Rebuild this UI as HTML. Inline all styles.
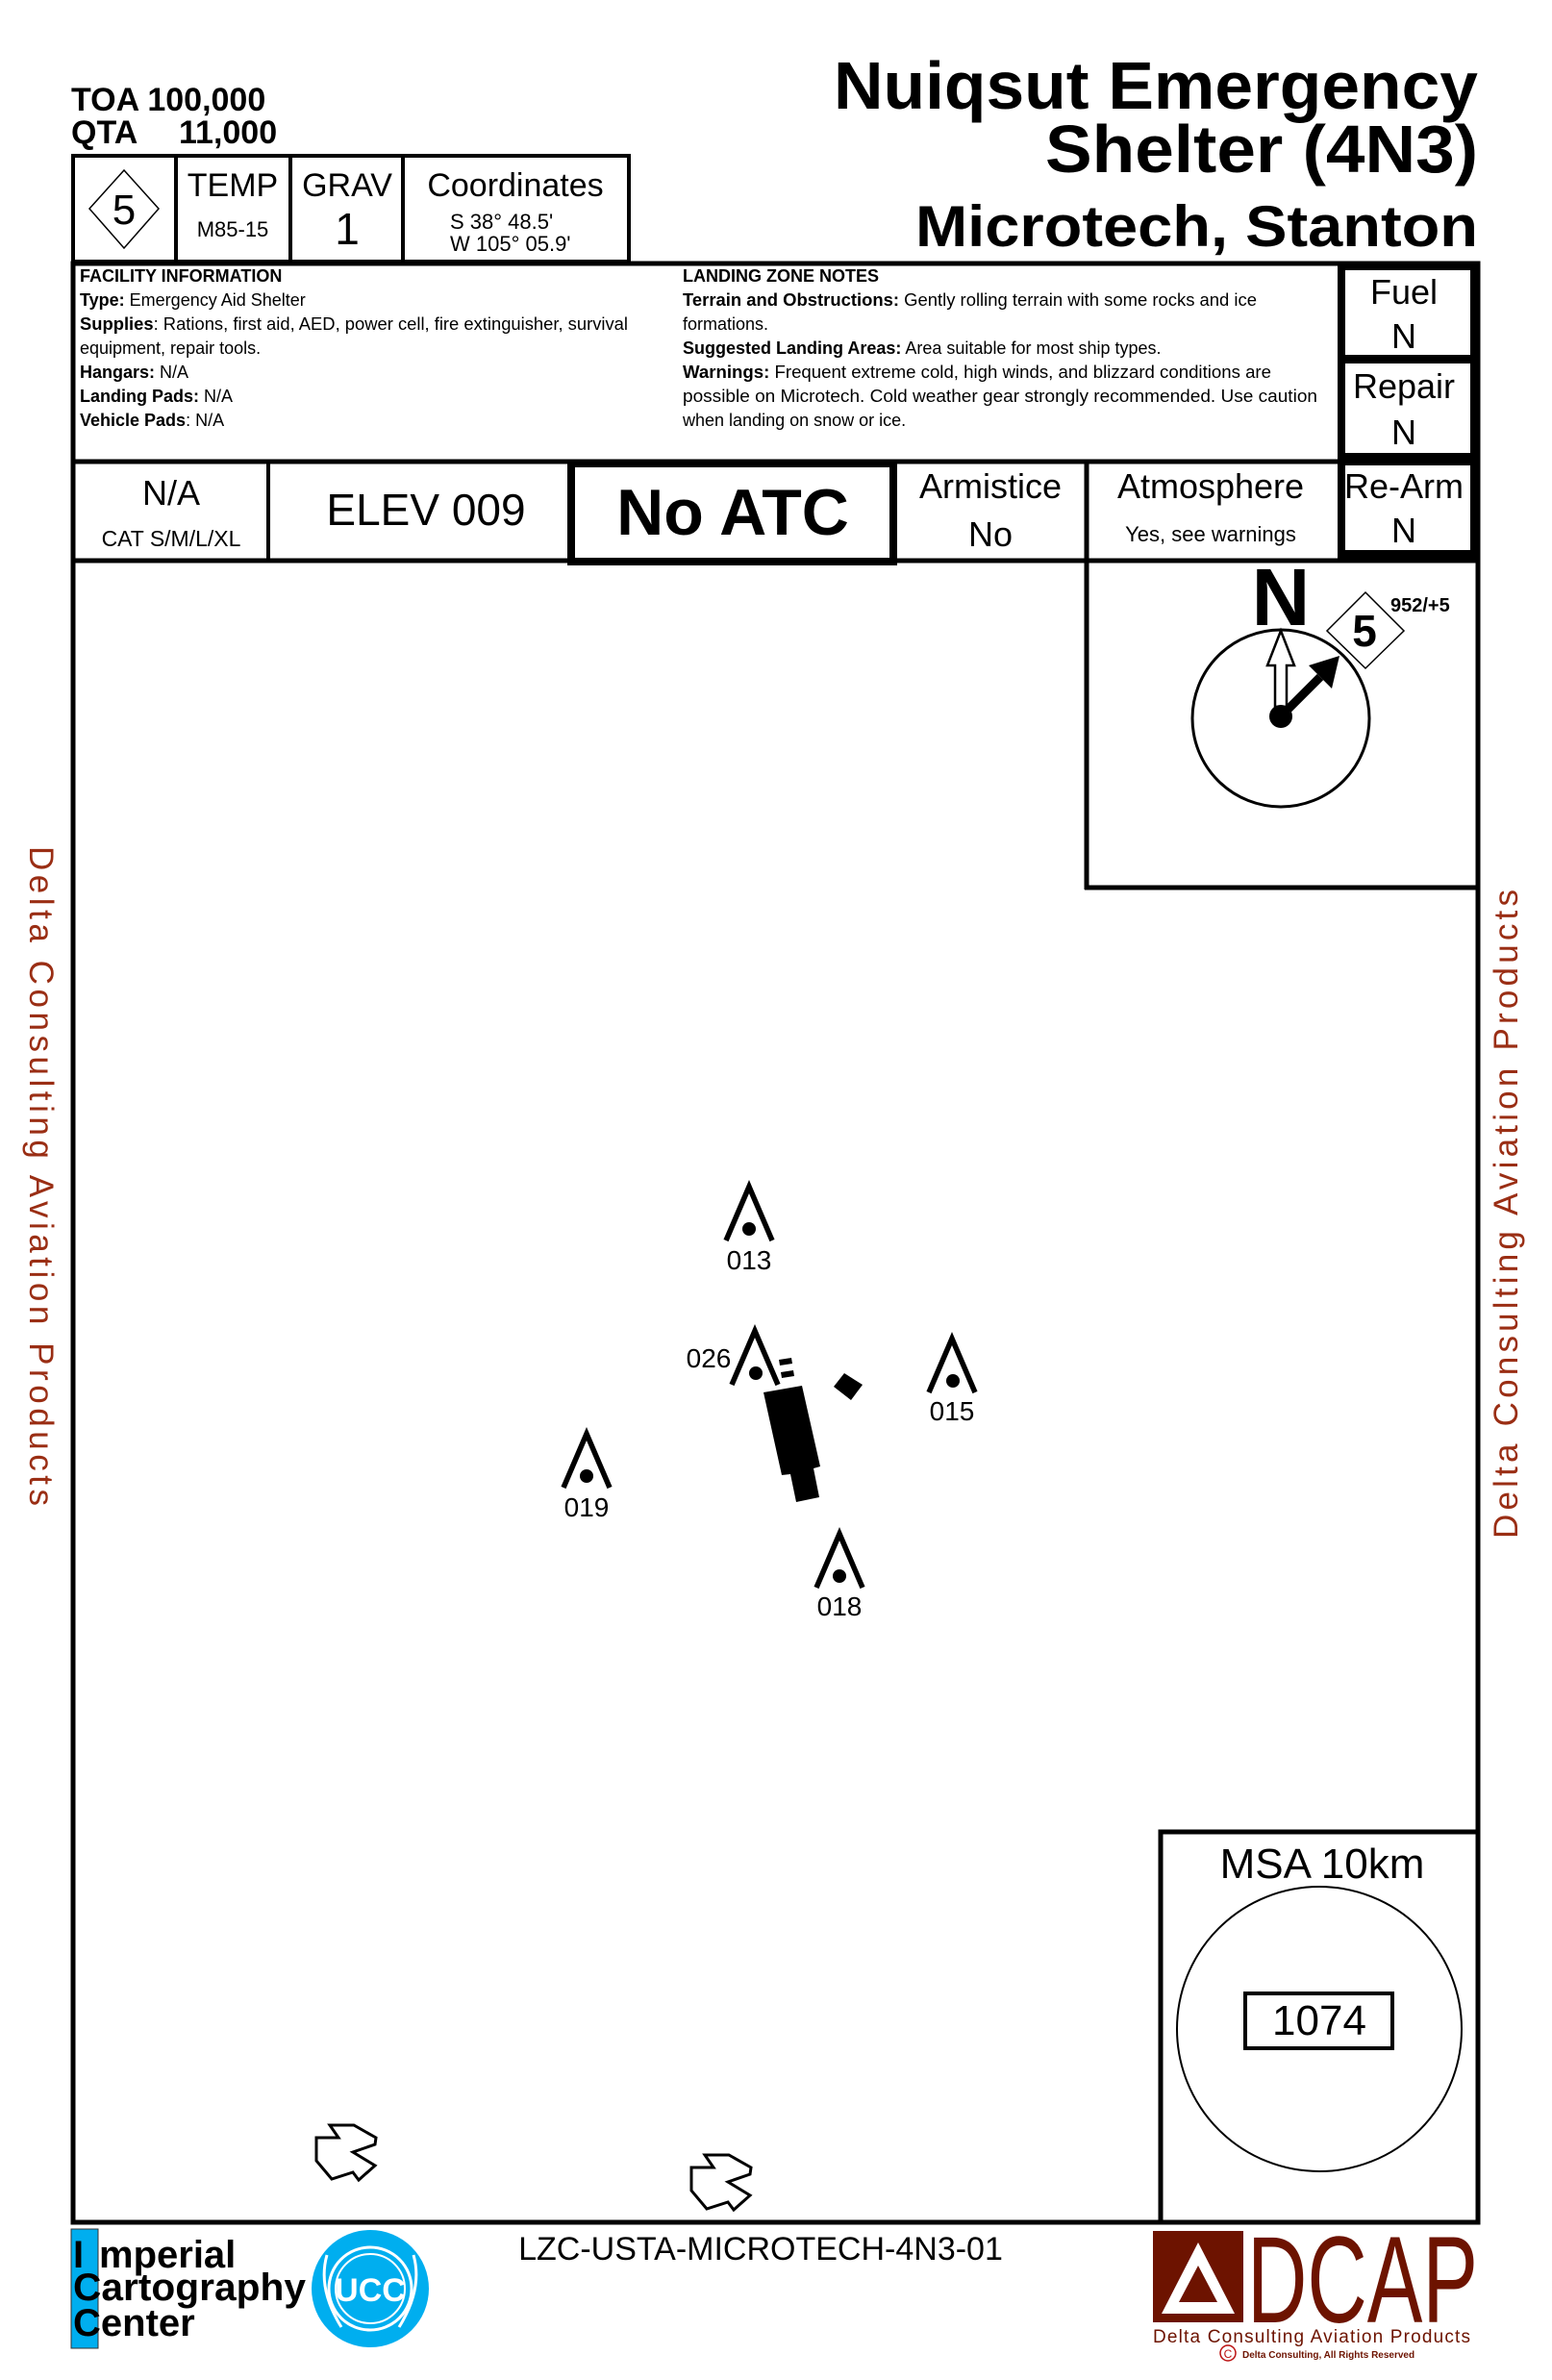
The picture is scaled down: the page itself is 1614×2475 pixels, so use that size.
<!DOCTYPE html>
<html><head><meta charset="utf-8"><style>html,body{margin:0;padding:0;background:#fff}svg{display:block}</style></head>
<body>
<svg xmlns="http://www.w3.org/2000/svg" width="1614" height="2475" viewBox="0 0 1614 2475" font-family="Liberation Sans, sans-serif">
<rect width="1614" height="2475" fill="#fff"/>
<!-- TOA / QTA -->
<text x="74" y="115" font-size="34" font-weight="bold">TOA 100,000</text>
<text x="74" y="149" font-size="34" font-weight="bold">QTA<tspan x="186">11,000</tspan></text>
<!-- Title -->
<g font-weight="bold" text-anchor="end" fill="#000">
<text x="1537" y="113" font-size="70" textLength="670" lengthAdjust="spacingAndGlyphs">Nuiqsut Emergency</text>
<text x="1537" y="179" font-size="70" textLength="450" lengthAdjust="spacingAndGlyphs">Shelter (4N3)</text>
<text x="1537" y="256" font-size="60" textLength="585" lengthAdjust="spacingAndGlyphs">Microtech, Stanton</text>
</g>
<!-- top info box -->
<g fill="none" stroke="#000">
<rect x="76" y="162" width="578" height="110" stroke-width="4"/>
<line x1="183" y1="162" x2="183" y2="272" stroke-width="4"/>
<line x1="302" y1="162" x2="302" y2="272" stroke-width="4"/>
<line x1="419" y1="162" x2="419" y2="272" stroke-width="4"/>
<polygon points="129,177 165,217 129,258 93,217" stroke-width="1.5"/>
</g>
<text x="129" y="233" font-size="44" text-anchor="middle">5</text>
<text x="242" y="204" font-size="34" text-anchor="middle">TEMP</text>
<text x="242" y="246" font-size="22" text-anchor="middle">M85-15</text>
<text x="361" y="204" font-size="34" text-anchor="middle">GRAV</text>
<text x="361" y="254" font-size="46" text-anchor="middle">1</text>
<text x="536" y="204" font-size="34" text-anchor="middle">Coordinates</text>
<text x="468" y="238" font-size="22">S 38° 48.5'</text>
<text x="468" y="261" font-size="22">W 105° 05.9'</text>
<!-- main frame -->
<rect x="76" y="274" width="1461" height="2037" fill="none" stroke="#000" stroke-width="5"/>
<!-- facility -->
<g font-size="18">
<text x="83" y="293" font-weight="bold">FACILITY INFORMATION</text>
<text x="83" y="318"><tspan font-weight="bold">Type:</tspan> Emergency Aid Shelter</text>
<text x="83" y="343" textLength="570" lengthAdjust="spacingAndGlyphs"><tspan font-weight="bold">Supplies</tspan>: Rations, first aid, AED, power cell, fire extinguisher, survival</text>
<text x="83" y="368">equipment, repair tools.</text>
<text x="83" y="393"><tspan font-weight="bold">Hangars:</tspan> N/A</text>
<text x="83" y="418"><tspan font-weight="bold">Landing Pads:</tspan> N/A</text>
<text x="83" y="443"><tspan font-weight="bold">Vehicle Pads</tspan>: N/A</text>
<text x="710" y="293" font-weight="bold">LANDING ZONE NOTES</text>
<text x="710" y="318" textLength="597" lengthAdjust="spacingAndGlyphs"><tspan font-weight="bold">Terrain and Obstructions:</tspan> Gently rolling terrain with some rocks and ice</text>
<text x="710" y="343">formations.</text>
<text x="710" y="368"><tspan font-weight="bold">Suggested Landing Areas:</tspan> Area suitable for most ship types.</text>
<text x="710" y="393" textLength="612" lengthAdjust="spacingAndGlyphs"><tspan font-weight="bold">Warnings:</tspan> Frequent extreme cold, high winds, and blizzard conditions are</text>
<text x="710" y="418" textLength="660" lengthAdjust="spacingAndGlyphs">possible on Microtech.  Cold weather gear strongly recommended.  Use caution</text>
<text x="710" y="443">when landing on snow or ice.</text>
</g>
<!-- fuel/repair column -->
<rect x="1391" y="274" width="146" height="310" fill="#000"/>
<rect x="1399" y="281" width="130" height="88" fill="#fff"/>
<rect x="1399" y="378" width="130" height="93" fill="#fff"/>
<rect x="1399" y="484" width="130" height="88" fill="#fff"/>
<g font-size="36" text-anchor="middle">
<text x="1460" y="316">Fuel</text><text x="1460" y="362">N</text>
<text x="1460" y="414">Repair</text><text x="1460" y="462">N</text>
<text x="1460" y="518">Re-Arm</text><text x="1460" y="564">N</text>
</g>
<!-- row 2 -->
<line x1="76" y1="480" x2="1391" y2="480" stroke="#000" stroke-width="5"/>
<line x1="76" y1="583" x2="1537" y2="583" stroke="#000" stroke-width="5"/>
<line x1="279" y1="480" x2="279" y2="583" stroke="#000" stroke-width="4"/>
<line x1="1130" y1="480" x2="1130" y2="925" stroke="#000" stroke-width="5"/>
<rect x="594" y="482" width="335" height="102" fill="#fff" stroke="#000" stroke-width="8"/>
<text x="178" y="525" font-size="36" text-anchor="middle">N/A</text>
<text x="178" y="568" font-size="23" text-anchor="middle">CAT S/M/L/XL</text>
<text x="443" y="546" font-size="46" text-anchor="middle">ELEV 009</text>
<text x="762" y="556" font-size="68" font-weight="bold" text-anchor="middle">No ATC</text>
<text x="1030" y="518" font-size="36" text-anchor="middle">Armistice</text>
<text x="1030" y="568" font-size="36" text-anchor="middle">No</text>
<text x="1259" y="518" font-size="36" text-anchor="middle">Atmosphere</text>
<text x="1259" y="563" font-size="22" text-anchor="middle">Yes, see warnings</text>
<!-- compass box -->
<line x1="1128" y1="923" x2="1537" y2="923" stroke="#000" stroke-width="5"/>
<circle cx="1332" cy="747" r="92" fill="none" stroke="#000" stroke-width="3"/>
<text x="1332" y="650" font-size="84" font-weight="bold" text-anchor="middle">N</text>
<polygon points="1332,656 1346,692 1338,692 1338,735 1326,735 1326,692 1318,692" fill="#fff" stroke="#000" stroke-width="2.5"/>
<line x1="1332" y1="745" x2="1373" y2="704" stroke="#000" stroke-width="9"/>
<polygon points="1393,682 1385,716 1361,692" fill="#000"/>
<circle cx="1332" cy="745" r="12" fill="#000"/>
<polygon points="1420,616 1460,656 1420,695 1380,656" fill="#fff" stroke="#000" stroke-width="1.5"/>
<text x="1419" y="672" font-size="46" font-weight="bold" text-anchor="middle">5</text>
<text x="1446" y="636" font-size="20" font-weight="bold">952/+5</text>
<!-- map symbols -->
<g fill="none" stroke="#000" stroke-width="5.5">
<path d="M755,1290 L779,1234 L803,1290"/>
<path d="M761,1440 L785,1384 L809,1440"/>
<path d="M966,1448 L990,1392 L1014,1448"/>
<path d="M586,1547 L610,1491 L634,1547"/>
<path d="M849,1651 L873,1595 L897,1651"/>
</g>
<g fill="#000">
<circle cx="779" cy="1278" r="7"/><circle cx="786" cy="1428" r="7"/><circle cx="991" cy="1436" r="7"/><circle cx="610" cy="1535" r="7"/><circle cx="873" cy="1639" r="7"/>
<polygon points="794,1448 834,1441 853,1525 846,1527 852,1557 828,1562 822,1533 813,1534"/>
<polygon points="867,1442 878,1428 897,1440 885,1456"/>
<polygon points="810,1414 823,1412 824,1418 811,1420"/>
<polygon points="812,1427 825,1425 826,1431 813,1433"/>
</g>
<g font-size="28" text-anchor="middle">
<text x="779" y="1320">013</text>
<text x="737" y="1422">026</text>
<text x="990" y="1477">015</text>
<text x="610" y="1577">019</text>
<text x="873" y="1680">018</text>
</g>
<!-- arrows -->
<g fill="#fff" stroke="#000" stroke-width="3" stroke-linejoin="miter">
<polygon points="343,2210 368,2210 391,2223 390,2230 367,2238 390,2252 373,2267 367,2259 345,2266 329,2247 329,2223 352,2223"/>
<polygon transform="translate(390,31)" points="343,2210 368,2210 391,2223 390,2230 367,2238 390,2252 373,2267 367,2259 345,2266 329,2247 329,2223 352,2223"/>
</g>
<!-- MSA -->
<path d="M1207,2311 L1207,1905 L1537,1905" fill="none" stroke="#000" stroke-width="5"/>
<text x="1375" y="1953" font-size="44" text-anchor="middle">MSA 10km</text>
<circle cx="1372" cy="2110" r="148" fill="none" stroke="#000" stroke-width="2"/>
<rect x="1295" y="2073" width="153" height="57" fill="none" stroke="#000" stroke-width="4"/>
<text x="1372" y="2116" font-size="44" text-anchor="middle">1074</text>
<!-- side texts -->
<text transform="translate(31,880) rotate(90)" font-size="35" fill="#9a2e14" textLength="686" lengthAdjust="spacing">Delta Consulting Aviation Products</text>
<text transform="translate(1578,1600) rotate(-90)" font-size="35" fill="#9a2e14" textLength="675" lengthAdjust="spacing">Delta Consulting Aviation Products</text>
<!-- footer ICC -->
<rect x="74" y="2318" width="28" height="124" fill="#00aeef" stroke="#333" stroke-width="1"/>
<g font-size="40" font-weight="bold">
<text x="76" y="2358">I<tspan x="103">mperial</tspan></text>
<text x="76" y="2392" textLength="242" lengthAdjust="spacingAndGlyphs">Cartography</text>
<text x="76" y="2429">Center</text>
</g>
<circle cx="385" cy="2380" r="61" fill="#00aeef"/>
<circle cx="385" cy="2380" r="43" fill="none" stroke="#fff" stroke-width="3"/>
<circle cx="385" cy="2380" r="36" fill="none" stroke="#fff" stroke-width="2"/>
<text x="385" y="2393" font-size="34" font-weight="bold" fill="#fff" text-anchor="middle">UCC</text>
<path d="M340,2345 Q330,2380 355,2420 M430,2345 Q440,2380 415,2420" fill="none" stroke="#fff" stroke-width="3"/>
<text x="791" y="2350" font-size="34" text-anchor="middle">LZC-USTA-MICROTECH-4N3-01</text>
<!-- DCAP -->
<rect x="1199" y="2320" width="94" height="95" fill="#6d1300"/>
<polygon points="1246,2332 1284,2406 1208,2406" fill="#fff"/>
<polygon points="1246,2356 1266,2394 1226,2394" fill="#6d1300"/>
<text x="1297" y="2415" font-size="128" fill="#6d1300" textLength="240" lengthAdjust="spacingAndGlyphs">DCAP</text>
<text x="1199" y="2436" font-size="19" fill="#6d1300" textLength="330" lengthAdjust="spacing">Delta Consulting Aviation Products</text>
<circle cx="1277" cy="2447" r="8" fill="none" stroke="#b11" stroke-width="1.5"/>
<text x="1277" y="2452" font-size="12" fill="#b11" text-anchor="middle">C</text>
<text x="1292" y="2452" font-size="10" font-weight="bold" fill="#6d1300">Delta Consulting, All Rights Reserved</text>
</svg>
</body></html>
